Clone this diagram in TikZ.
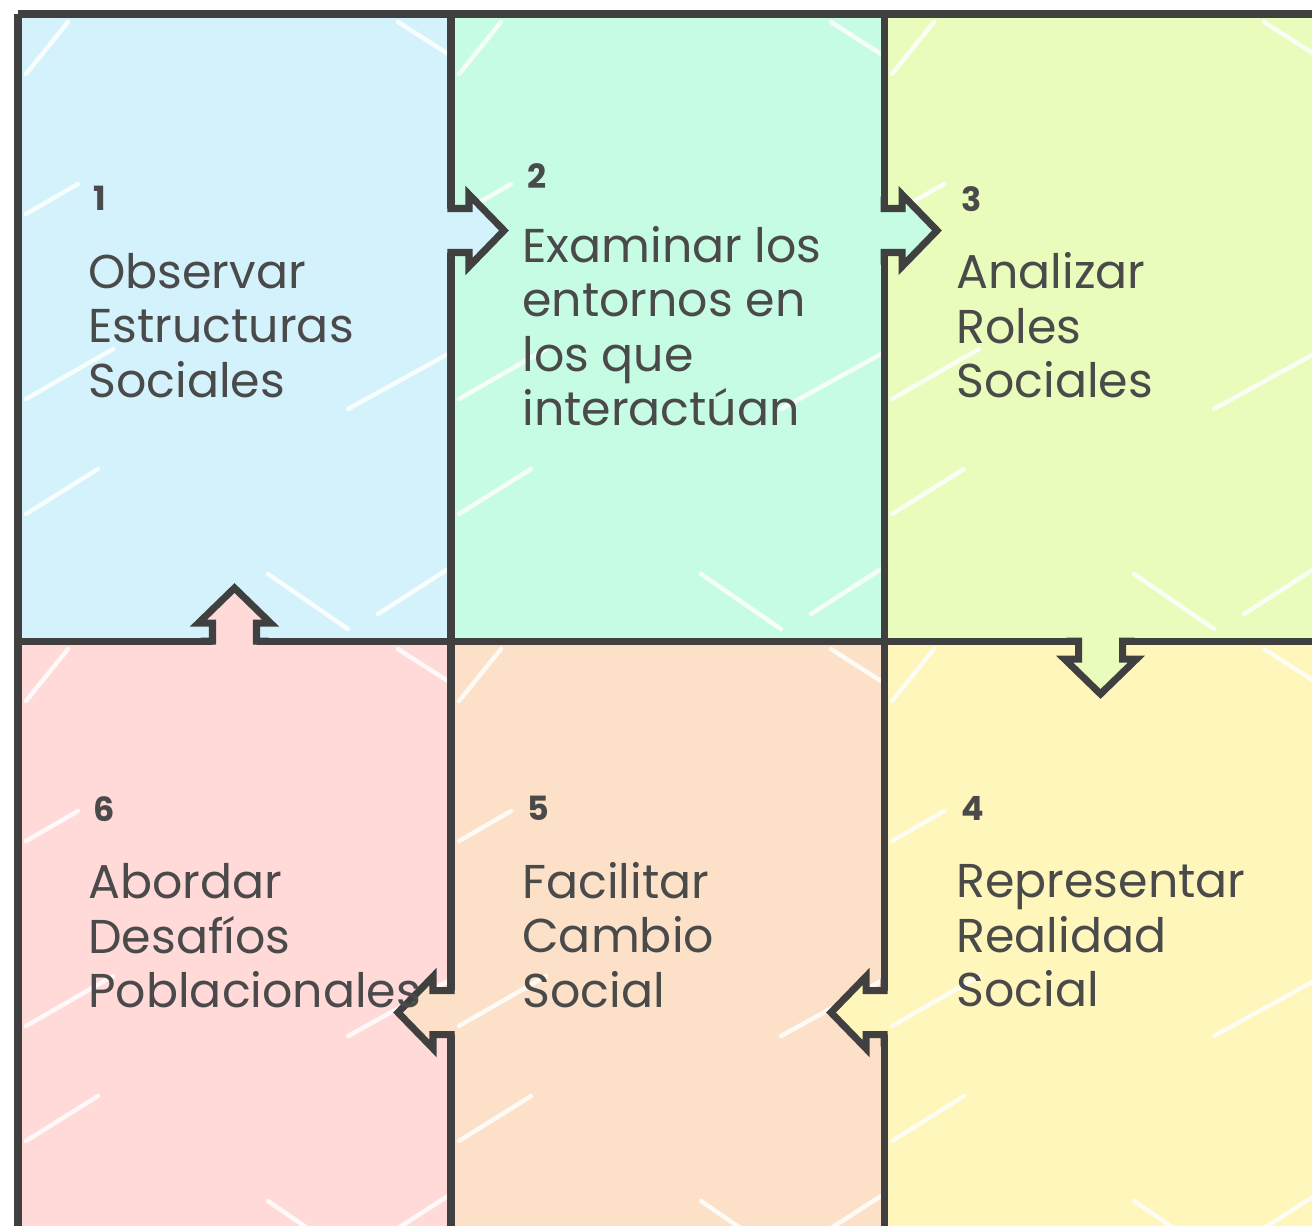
\documentclass[tikz,border=0pt]{standalone}
\usepackage{fontspec}
\setmainfont{Poppins}
\usepackage{tikz}
\usetikzlibrary{positioning}

\definecolor{inkgray}{HTML}{404040}
\definecolor{textgray}{HTML}{4A4A4A}
\definecolor{skyfill}{HTML}{D3F2FC}
\definecolor{mintfill}{HTML}{C6FCE3}
\definecolor{limefill}{HTML}{E9FCBB}
\definecolor{lemonfill}{HTML}{FEF6BA}
\definecolor{peachfill}{HTML}{FCE1C8}
\definecolor{rosefill}{HTML}{FFDAD8}

% notch arrow: colour, base point, direction
\newcommand{\notch}[3]{%
  \begin{scope}[shift={(#2)}, rotate=#3]
    \fill[#1] (-5,-22) -- (18,-22) -- (18,-36) -- (53,0) -- (18,36) -- (18,22) -- (-5,22) -- cycle;
    \draw[border] (0,-34) -- (0,-22) -- (18,-22) -- (18,-36) -- (53,0) -- (18,36) -- (18,22) -- (0,22) -- (0,34);
  \end{scope}}
\newcommand{\stepno}[1]{\hspace*{3pt}{\bfseries\fontsize{19}{19}\selectfont #1}}

\begin{document}
\begin{tikzpicture}[x=0.2mm, y=-0.2mm,
cell/.style={rectangle, inner sep=0pt, outer sep=0pt, minimum width=8.66cm, minimum height=12.54cm},
border/.style={draw=inkgray, line width=4pt, line join=miter},
streak/.style={white, line width=2.5pt, line cap=round, opacity=0.85},
steptext/.style={anchor=north west, inner sep=0pt, align=left, text=textgray,
  font=\fontsize{27}{31}\selectfont}]
\useasboundingbox (0,0) rectangle (1312,1225);
\clip (0,0) rectangle (1312,1225);

% cells
\node[cell, fill=skyfill, anchor=north west] (c1) at (18,14) {};
\node[cell, fill=mintfill, right=0pt of c1] (c2) {};
\node[cell, fill=limefill, right=0pt of c2] (c3) {};
\node[cell, fill=rosefill, below=0pt of c1] (c6) {};
\node[cell, fill=peachfill, below=0pt of c2] (c5) {};
\node[cell, fill=lemonfill, below=0pt of c3] (c4) {};

% sketchy white marks in the fills
\foreach \c in {c1,c2,c3,c4,c5,c6} {
  \begin{scope}
    \clip (\c.north west) rectangle (\c.south east);
    \begin{scope}[shift={(\c.north west)}]
      \draw[streak] (8,385) -- (95,335);
      \draw[streak] (8,500) -- (80,455);
      \draw[streak] (330,395) -- (430,340);
      \draw[streak] (360,600) -- (430,555);
      \draw[streak] (50,8) -- (8,60);
      \draw[streak] (380,8) -- (430,40);
      \draw[streak] (250,560) -- (330,615);
      \draw[streak] (8,200) -- (60,170);
    \end{scope}
  \end{scope}
}

% grid lines
\draw[border] (c1.north west) -- (c3.north east);
\draw[border] (c6.north west) -- (c4.north east);
\draw[border] (c1.north west) -- (c6.south west);
\draw[border] (c2.north west) -- (c5.south west);
\draw[border] (c3.north west) -- (c4.south west);

% arrows between the steps
\notch{skyfill}{[shift={(0,-97)}]c1.east}{0}
\notch{mintfill}{[shift={(0,-97)}]c2.east}{0}
\notch{limefill}{c3.south}{-90}
\notch{lemonfill}{[shift={(0,58)}]c4.west}{180}
\notch{peachfill}{[shift={(0,58)}]c5.west}{180}
\notch{rosefill}{c6.north}{90}

% labels
\node[steptext] (t1) at ([shift={(70,172)}]c1.north west)
  {\stepno{1}\\[13pt]Observar\\Estructuras\\Sociales};
\node[steptext] (t2) at ([shift={(71,149)}]c2.north west)
  {\stepno{2}\\[11pt]Examinar los\\entornos en\\los que\\interactúan};
\node[steptext] (t3) at ([shift={(72,172)}]c3.north west)
  {\stepno{3}\\[13pt]Analizar\\Roles\\Sociales};
\node[steptext] (t4) at ([shift={(72,155)}]c4.north west)
  {\stepno{4}\\[13pt]Representar\\Realidad\\Social};
\node[steptext] (t5) at ([shift={(71,155)}]c5.north west)
  {\stepno{5}\\[13pt]Facilitar\\Cambio\\Social};
\node[steptext] (t6) at ([shift={(70,155)}]c6.north west)
  {\stepno{6}\\[13pt]Abordar\\Desafíos\\Poblacionales};
\end{tikzpicture}
\end{document}
